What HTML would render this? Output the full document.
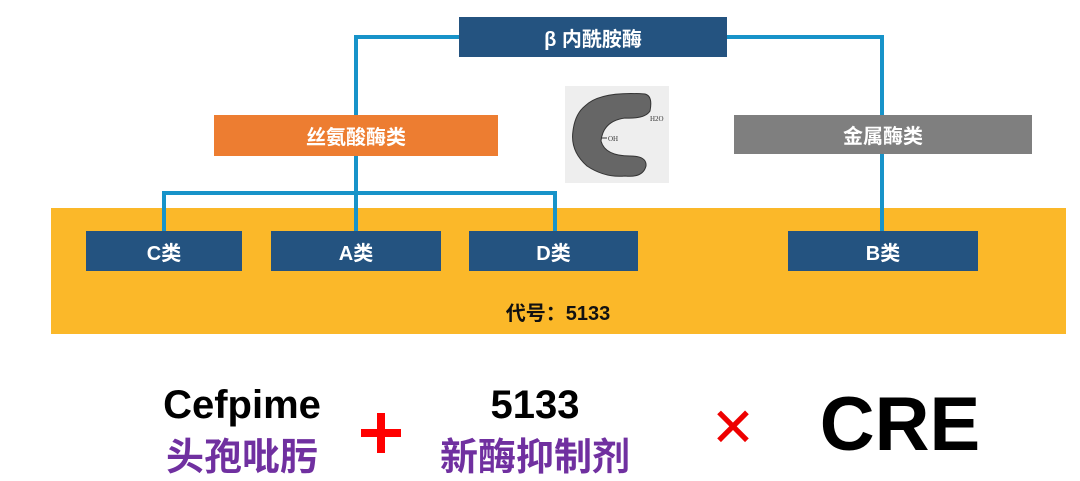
<!DOCTYPE html>
<html><head><meta charset="utf-8"><style>
body{margin:0;width:1080px;height:476px;background:#fff;position:relative;overflow:hidden;font-family:"Liberation Sans","Noto Sans CJK SC",sans-serif;}
div{position:absolute;box-sizing:border-box}
.b{color:#fff;font-weight:bold;font-size:20px;display:flex;align-items:center;justify-content:center}
.blue{background:#245380}
.l{background:#1793C9}
</style></head><body>
<div style="left:51px;top:208px;width:1015px;height:126px;background:#FBB829"></div>
<div class="l" style="left:354px;top:35px;width:108px;height:4px"></div>
<div class="l" style="left:724px;top:35px;width:160px;height:4px"></div>
<div class="l" style="left:354px;top:35px;width:4px;height:82px"></div>
<div class="l" style="left:880px;top:35px;width:4px;height:197px"></div>
<div class="l" style="left:354px;top:154px;width:4px;height:78px"></div>
<div class="l" style="left:162px;top:191px;width:395px;height:4px"></div>
<div class="l" style="left:162px;top:191px;width:4px;height:41px"></div>
<div class="l" style="left:553px;top:191px;width:4px;height:41px"></div>
<div class="b blue" style="left:459px;top:17px;width:268px;height:40px">β 内酰胺酶</div>
<div class="b" style="left:214px;top:115px;width:284px;height:41px;background:#ED7D31">丝氨酸酶类</div>
<div class="b" style="left:734px;top:115px;width:298px;height:39px;background:#7F7F7F">金属酶类</div>
<div class="b blue" style="left:86px;top:231px;width:156px;height:40px">C类</div>
<div class="b blue" style="left:271px;top:231px;width:170px;height:40px">A类</div>
<div class="b blue" style="left:469px;top:231px;width:169px;height:40px">D类</div>
<div class="b blue" style="left:788px;top:231px;width:190px;height:40px">B类</div>
<div style="left:470px;top:297px;width:176px;text-align:center;font-weight:bold;font-size:20px;color:#111">代号：5133</div>
<div style="left:565px;top:86px;width:104px;height:97px;background:#EEEEEE">
<svg width="104" height="97" viewBox="0 0 104 97"><path d="M20 20 Q35 5 80 8 Q88 10 85 25 Q80 33 60 32 Q38 35 36 55 Q40 70 65 70 Q82 70 81 80 Q78 92 60 90 Q40 92 22 80 Q5 65 8 45 Q10 28 20 20Z" fill="#666" stroke="#333" stroke-width="1"/><line x1="36" y1="52" x2="42" y2="52" stroke="#333"/><text x="43" y="55" font-size="7" fill="#333" font-family="Liberation Serif">OH</text><text x="85" y="35" font-size="7" fill="#333" font-family="Liberation Serif">H2O</text></svg></div>
<div style="left:132px;top:383px;width:220px;text-align:center;font-weight:bold;font-size:40px;color:#000">Cefpime</div>
<div style="left:132px;top:426px;width:220px;text-align:center;font-weight:bold;font-size:38px;color:#7030A0">头孢吡肟</div>
<div style="left:361px;top:429px;width:40px;height:8px;background:#F00"></div>
<div style="left:377px;top:413px;width:8px;height:40px;background:#F00"></div>
<div style="left:425px;top:383px;width:220px;text-align:center;font-weight:bold;font-size:40px;color:#000">5133</div>
<div style="left:425px;top:426px;width:220px;text-align:center;font-weight:bold;font-size:38px;color:#7030A0">新酶抑制剂</div>
<div style="left:705px;top:398px;width:56px;text-align:center;font-size:54px;line-height:60px;color:#E00">✕</div>
<div style="left:810px;top:382px;width:180px;text-align:center;font-weight:bold;font-size:76px;line-height:86px;color:#000">CRE</div>
</body></html>
